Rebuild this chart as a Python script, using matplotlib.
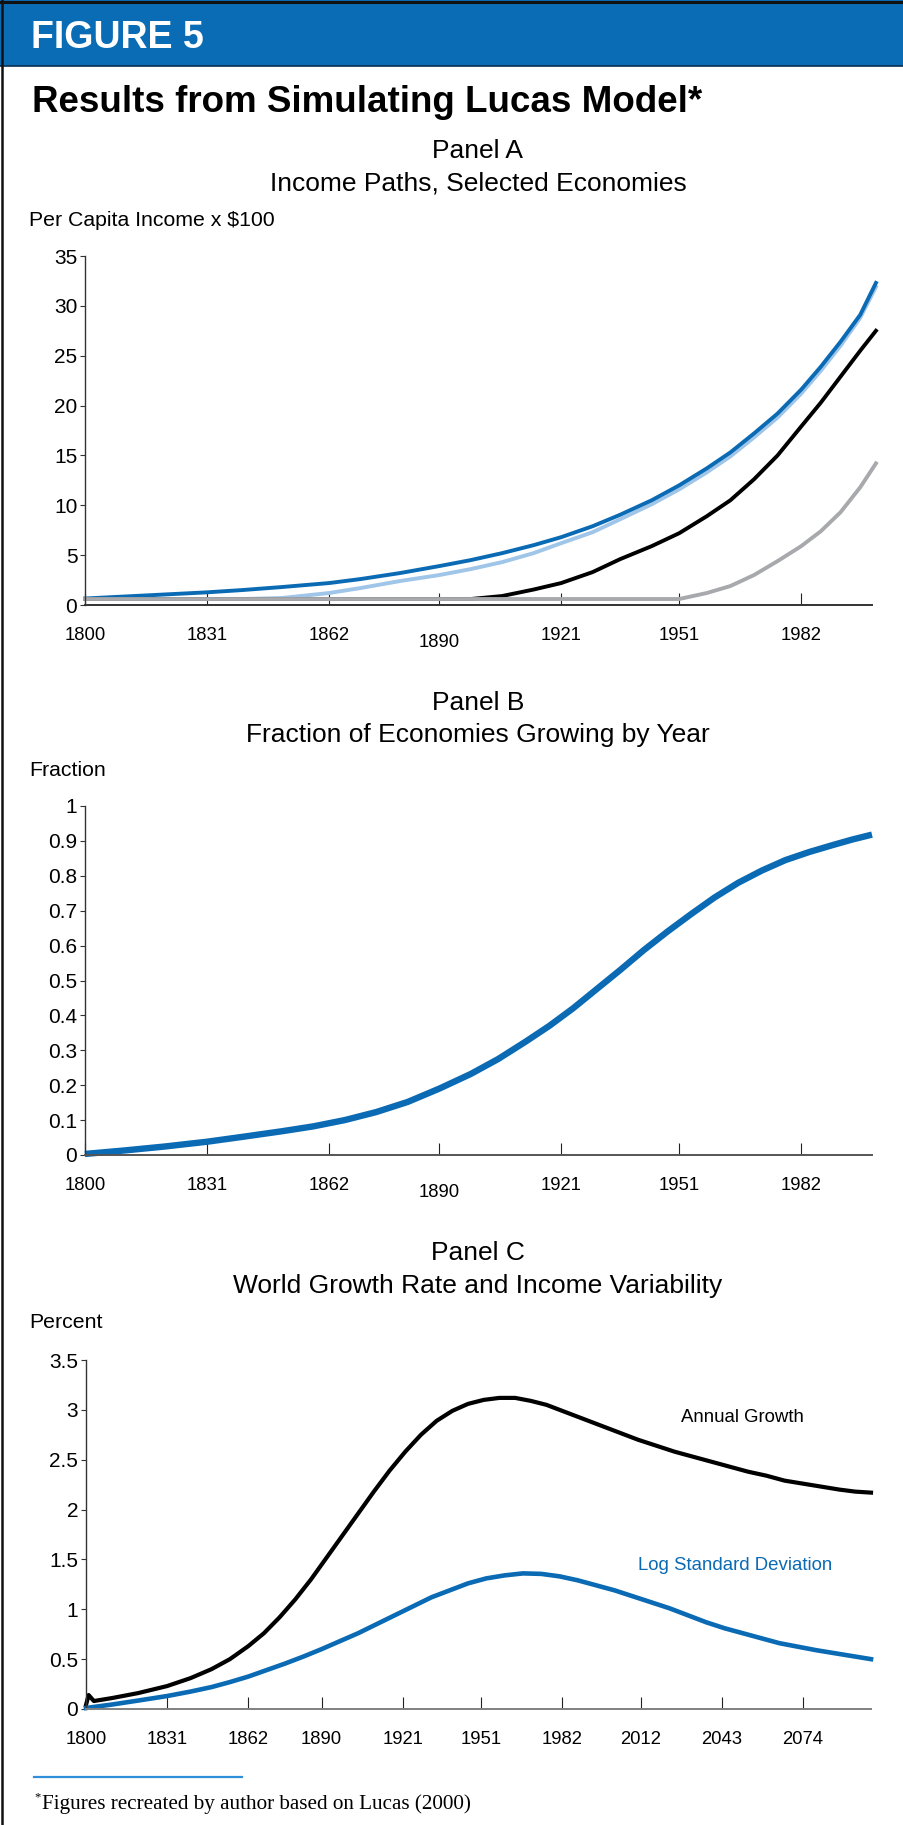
import numpy as np
import matplotlib.pyplot as plt
from matplotlib.patches import Rectangle
from matplotlib.lines import Line2D

plt.rcParams['font.family'] = ['Liberation Sans', 'DejaVu Sans']

W, H = 904, 1825

# Panel A: income paths (x $100)
a_years = [1800, 1810, 1820, 1831, 1840, 1850, 1862, 1870, 1880, 1890, 1898, 1906,
           1914, 1921, 1929, 1936, 1944, 1951, 1958, 1964, 1970, 1976, 1982, 1987,
           1992, 1997, 2001]
a_lead = [0.65, 0.85, 1.05, 1.27, 1.5, 1.8, 2.2, 2.6, 3.2, 3.9, 4.5, 5.2,
          6.0, 6.8, 7.9, 9.05, 10.5, 12.0, 13.7, 15.3, 17.2, 19.2, 21.6, 23.9,
          26.4, 29.1, 32.3]
a_second = [0.6, 0.6, 0.6, 0.6, 0.6, 0.7, 1.2, 1.7, 2.4, 3.0, 3.6, 4.3,
            5.2, 6.2, 7.3, 8.6, 10.1, 11.6, 13.3, 14.9, 16.8, 18.8, 21.2, 23.5,
            26.0, 28.8, 31.9]
a_third = [0.6, 0.6, 0.6, 0.6, 0.6, 0.6, 0.6, 0.6, 0.6, 0.6, 0.6, 0.9,
           1.55, 2.2, 3.3, 4.6, 5.9, 7.2, 8.9, 10.5, 12.6, 15.0, 17.9, 20.3,
           22.9, 25.5, 27.5]
a_fourth = [0.6, 0.6, 0.6, 0.6, 0.6, 0.6, 0.6, 0.6, 0.6, 0.6, 0.6, 0.6,
            0.6, 0.6, 0.6, 0.6, 0.6, 0.6, 1.2, 1.9, 3.0, 4.4, 5.9, 7.4,
            9.3, 11.8, 14.2]

# Panel B: fraction of economies growing
b_years = [1800, 1810, 1820, 1831, 1840, 1850, 1858, 1866, 1874, 1882, 1890, 1898,
           1905, 1912, 1918, 1924, 1930, 1936, 1942, 1948, 1954, 1960, 1966, 1972,
           1978, 1984, 1990, 1995, 2000]
b_frac = [0.003, 0.013, 0.024, 0.038, 0.052, 0.068, 0.082, 0.10, 0.123, 0.152, 0.19, 0.232,
          0.275, 0.325, 0.37, 0.42, 0.475, 0.53, 0.587, 0.64, 0.69, 0.738, 0.78, 0.815,
          0.845, 0.868, 0.888, 0.904, 0.918]

# Panel C: world growth rate (percent)
g_years = [1800, 1801, 1803, 1810, 1820, 1831, 1840, 1848, 1855, 1862, 1868, 1874,
           1880, 1886, 1892, 1898, 1904, 1910, 1916, 1922, 1928, 1934, 1940, 1946,
           1952, 1958, 1964, 1970, 1976, 1983, 1990, 1997, 2004, 2011, 2018, 2025,
           2032, 2039, 2046, 2053, 2060, 2067, 2074, 2081, 2088, 2094, 2100]
g_growth = [0.04, 0.14, 0.08, 0.11, 0.16, 0.23, 0.31, 0.40, 0.50, 0.63, 0.76, 0.92,
            1.10, 1.30, 1.52, 1.74, 1.96, 2.18, 2.39, 2.58, 2.75, 2.89, 2.99, 3.06,
            3.10, 3.12, 3.12, 3.09, 3.05, 2.98, 2.91, 2.84, 2.77, 2.70, 2.64, 2.58,
            2.53, 2.48, 2.43, 2.38, 2.34, 2.29, 2.26, 2.23, 2.20, 2.18, 2.17]

# Panel C: log standard deviation of income (percent)
s_years = [1800, 1810, 1820, 1831, 1840, 1848, 1855, 1862, 1869, 1876, 1883, 1890,
           1897, 1904, 1911, 1918, 1925, 1932, 1939, 1946, 1953, 1960, 1967, 1974,
           1981, 1988, 1995, 2002, 2009, 2016, 2023, 2030, 2037, 2044, 2051, 2058,
           2065, 2072, 2079, 2086, 2093, 2100]
s_logsd = [0.01, 0.045, 0.085, 0.13, 0.175, 0.22, 0.27, 0.325, 0.39, 0.455, 0.525, 0.60,
           0.68, 0.76, 0.85, 0.94, 1.03, 1.12, 1.19, 1.26, 1.31, 1.34, 1.36, 1.355,
           1.33, 1.29, 1.24, 1.19, 1.13, 1.07, 1.01, 0.94, 0.87, 0.81, 0.76, 0.71,
           0.66, 0.625, 0.59, 0.56, 0.53, 0.50]

ab_ticks = [1800, 1831, 1862, 1890, 1921, 1951, 1982]
c_ticks = [1800, 1831, 1862, 1890, 1921, 1951, 1982, 2012, 2043, 2074]

BLUE = '#0a6ab4'
LIGHT = '#9fc5e8'
GRAY = '#a8a9ad'

fig = plt.figure(figsize=(W / 100, H / 100), dpi=100)


def px_axes(left, top, right, bottom):
    return fig.add_axes([left / W, 1 - bottom / H, (right - left) / W, (bottom - top) / H])


def ftext(x, y, s, **kw):
    fig.text(x / W, 1 - y / H, s, **kw)


def style(ax, xticks, bottom_color, shift_1890):
    ax.spines['top'].set_visible(False)
    ax.spines['right'].set_visible(False)
    ax.spines['left'].set_color('#333333')
    ax.spines['left'].set_linewidth(1.0)
    ax.spines['bottom'].set_color(bottom_color)
    ax.spines['bottom'].set_linewidth(1.4)
    ax.set_xticks(xticks)
    ax.set_xticklabels([str(t) for t in xticks])
    ax.tick_params(axis='x', direction='in', length=8.5, width=0.8, color='#222222',
                   pad=16, labelsize=13.3)
    ax.tick_params(axis='y', direction='out', length=3.5, width=0.8, color='#333333',
                   pad=2, labelsize=15)
    if shift_1890:
        for t, tick in zip(xticks, ax.xaxis.get_major_ticks()):
            if t == 1890:
                tick.set_pad(21)


# header band
fig.add_artist(Rectangle((0, 1 - 66 / H), 1, 66 / H, transform=fig.transFigure,
                         facecolor='#0a6cb4', edgecolor='none'))
fig.add_artist(Line2D([0, 1], [1 - 1.5 / H] * 2, transform=fig.transFigure,
                      color='#111111', lw=2.2))
fig.add_artist(Line2D([0, 1], [1 - 66 / H] * 2, transform=fig.transFigure,
                      color='#0b2e4f', lw=1.2))
fig.add_artist(Line2D([2.5 / W] * 2, [0, 1], transform=fig.transFigure,
                      color='#111111', lw=1.8))

ftext(31, 38, 'FIGURE 5', color='white', fontsize=27, fontweight='bold', va='center')
ftext(32, 102, 'Results from Simulating Lucas Model*', fontsize=26.5,
      fontweight='bold', va='center')

# Panel A
ftext(478, 151, 'Panel A', fontsize=19, ha='center', va='center')
ftext(478, 183, 'Income Paths, Selected Economies', fontsize=19, ha='center', va='center')
ftext(29, 221, 'Per Capita Income x $100', fontsize=15.3, va='center')

axA = px_axes(85, 256, 872, 605)
axA.plot(a_years, a_second, color=LIGHT, lw=2.8, clip_on=False)
axA.plot(a_years, a_lead, color=BLUE, lw=2.8, clip_on=False)
axA.plot(a_years, a_third, color='black', lw=2.8, clip_on=False)
axA.plot(a_years, a_fourth, color=GRAY, lw=2.8, clip_on=False)
axA.set_xlim(1800, 2000)
axA.set_ylim(0, 35)
axA.set_yticks(range(0, 36, 5))
style(axA, ab_ticks, '#333333', True)

# Panel B
ftext(478, 703, 'Panel B', fontsize=19, ha='center', va='center')
ftext(478, 735, 'Fraction of Economies Growing by Year', fontsize=19,
      ha='center', va='center')
ftext(29, 771, 'Fraction', fontsize=15.3, va='center')

axB = px_axes(85, 806, 872, 1155)
axB.plot(b_years, b_frac, color=BLUE, lw=4.6, solid_capstyle='butt', clip_on=False)
axB.set_xlim(1800, 2000)
axB.set_ylim(0, 1)
axB.set_yticks(np.round(np.arange(0, 1.01, 0.1), 1))
axB.set_yticklabels(['0', '0.1', '0.2', '0.3', '0.4', '0.5', '0.6', '0.7', '0.8',
                     '0.9', '1'])
style(axB, ab_ticks, '#555555', True)

# Panel C
ftext(478, 1253, 'Panel C', fontsize=19, ha='center', va='center')
ftext(478, 1286, 'World Growth Rate and Income Variability', fontsize=19,
      ha='center', va='center')
ftext(29, 1322, 'Percent', fontsize=15.3, va='center')

axC = px_axes(86, 1360, 871, 1709)
axC.plot(g_years, g_growth, color='black', lw=3.0, clip_on=False)
axC.plot(s_years, s_logsd, color=BLUE, lw=3.3, clip_on=False)
axC.set_xlim(1800, 2100)
axC.set_ylim(0, 3.5)
axC.set_yticks([0, 0.5, 1, 1.5, 2, 2.5, 3, 3.5])
axC.set_yticklabels(['0', '0.5', '1', '1.5', '2', '2.5', '3', '3.5'])
style(axC, c_ticks, '#808080', False)
axC.text(2051, 2.92, 'Annual Growth', fontsize=13.4, ha='center', va='center',
         color='black')
axC.text(2048, 1.44, 'Log Standard Deviation', fontsize=13.4, ha='center', va='center',
         color=BLUE)

# footnote
fig.add_artist(Line2D([34 / W, 242 / W], [1 - 1777 / H] * 2, transform=fig.transFigure,
                      color='#2f8fd8', lw=1.6))
ftext(34, 1797, '*', fontsize=9, va='center', family=['Liberation Serif', 'DejaVu Serif'])
ftext(42, 1804, 'Figures recreated by author based on Lucas (2000)', fontsize=15.2,
      va='center', family=['Liberation Serif', 'DejaVu Serif'])

fig.savefig('out.png', dpi=100)
